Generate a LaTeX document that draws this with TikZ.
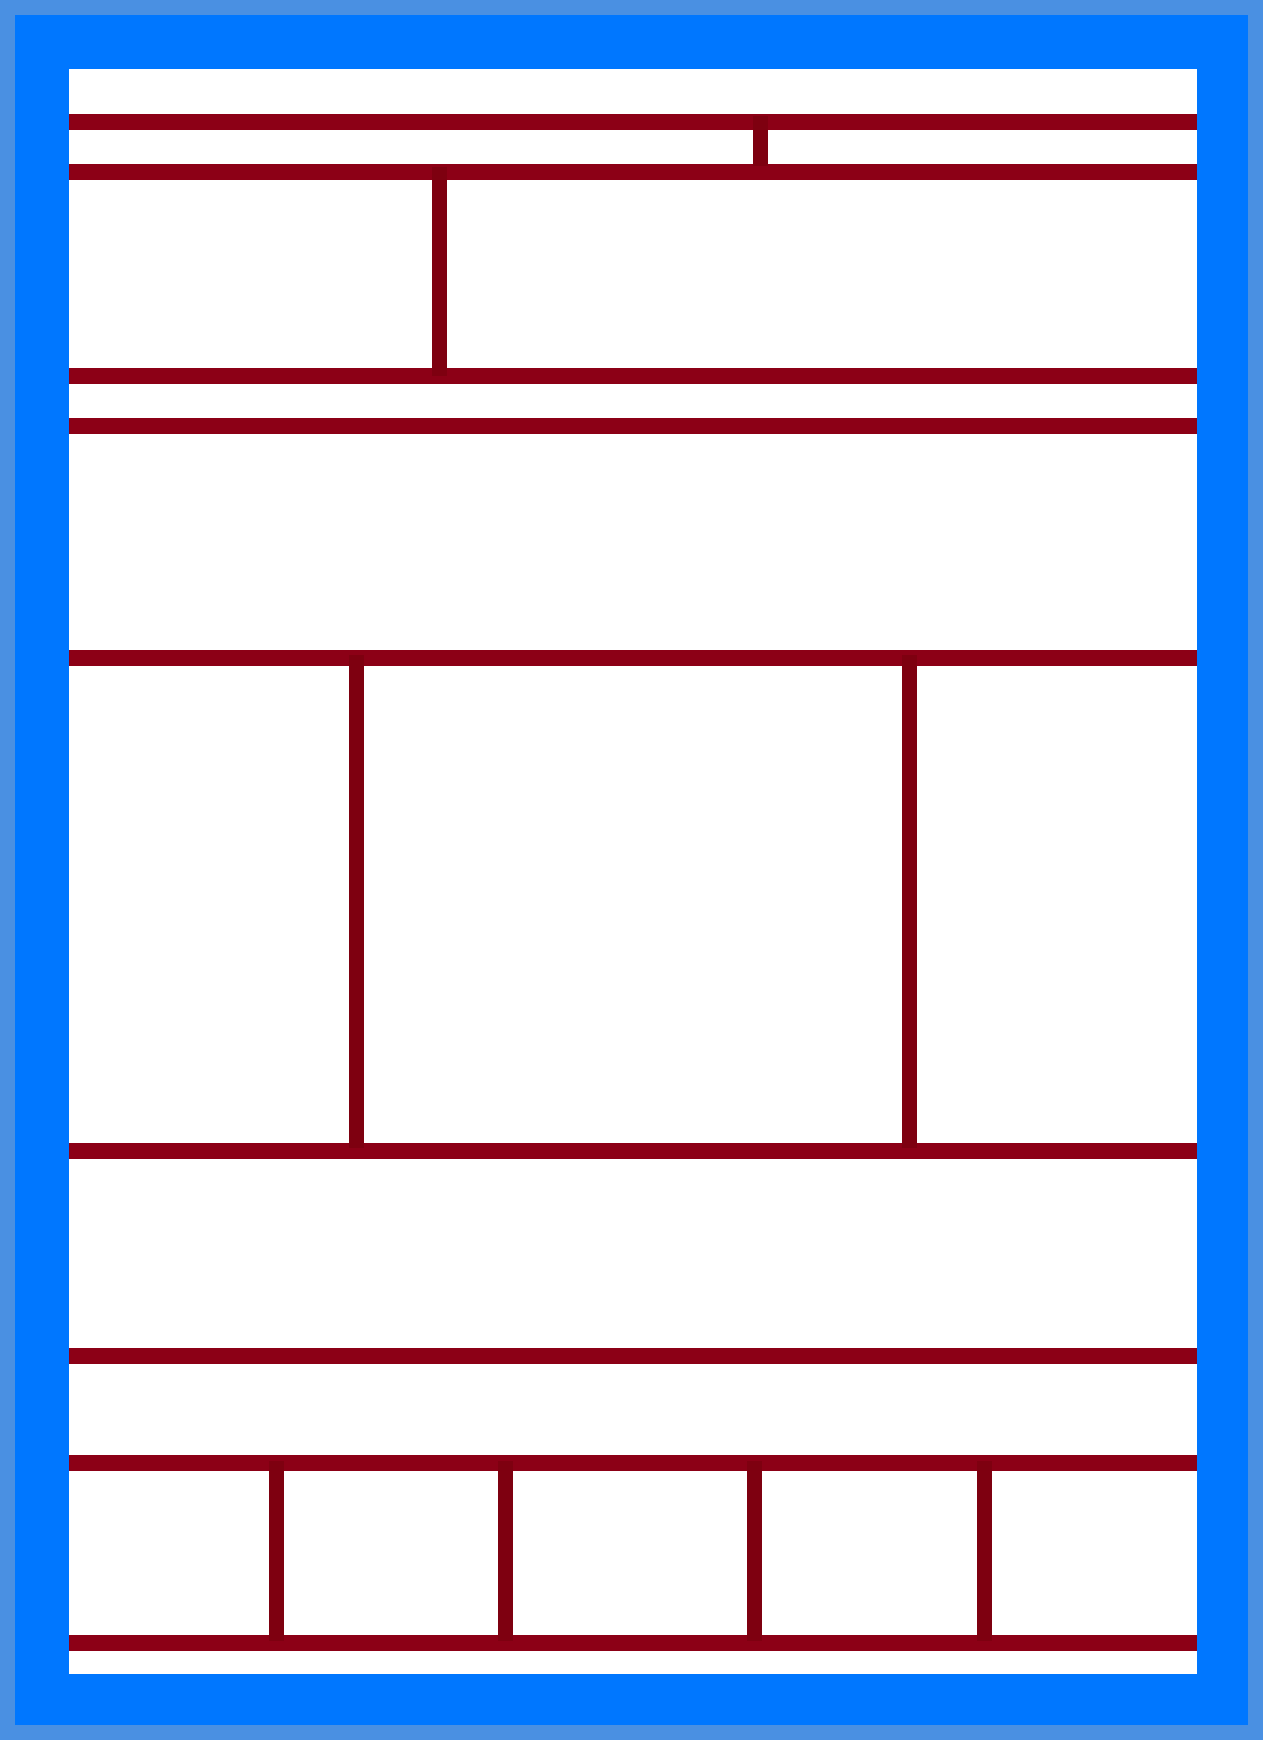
\documentclass[tikz,border=0pt]{standalone}
\definecolor{outerblue}{RGB}{74,144,226}
\definecolor{frameblue}{RGB}{0,119,255}
\definecolor{hred}{RGB}{140,0,22}
\definecolor{vred}{RGB}{126,0,16}
\begin{document}
\begin{tikzpicture}[x=0.5pt,y=-0.5pt,
  hline/.style={hred,line width=8pt},
  vline/.style={vred,line width=7.5pt}]
\fill[outerblue] (0,0) rectangle (1263,1740);
\useasboundingbox (0,0) rectangle (1263,1740);
\fill[frameblue] (15,15) rectangle (1248,1725);
\fill[white] (69,69) rectangle (1197,1674);
% horizontal lines
\foreach \y in {121.5,171.5,376,425.5,658,1151,1355.5,1463,1643}
  \draw[hline] (69,\y) -- (1197,\y);
% vertical lines
\draw[vline] (760.5,116) -- (760.5,166);
\draw[vline] (439.3,166.5) -- (439.3,375.5);
\foreach \x in {356.3,909.3}
  \draw[vline] (\x,655) -- (\x,1148);
\foreach \x in {276,505,754.5,984}
  \draw[vline] (\x,1461) -- (\x,1641);
\end{tikzpicture}
\end{document}
